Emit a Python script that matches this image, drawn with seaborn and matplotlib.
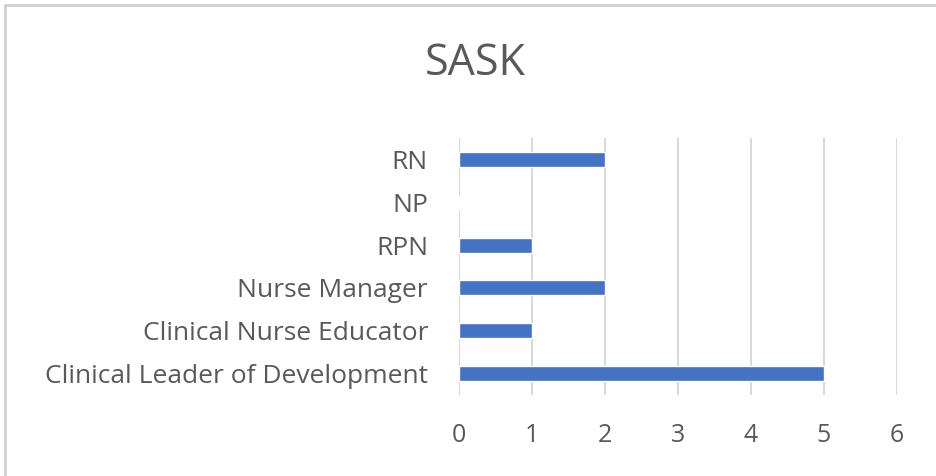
import matplotlib
matplotlib.use("Agg")
import matplotlib.pyplot as plt
import seaborn as sns
import pandas as pd
from matplotlib.patches import Rectangle

categories = ["RN", "NP", "RPN", "Nurse Manager", "Clinical Nurse Educator",
              "Clinical Leader of Development"]
values = [2, 0, 1, 2, 1, 5]
xticks = [0, 1, 2, 3, 4, 5, 6]

sns.set_style("white")
plt.rcParams['font.family'] = ['Open Sans', 'DejaVu Sans']

df = pd.DataFrame({"role": categories, "count": values})

fig = plt.figure(figsize=(9.36, 4.76), dpi=100)
ax = fig.add_axes([0.490, 0.170, 0.468, 0.540])

sns.barplot(data=df, y="role", x="count", orient="h", color="#4472C4",
            saturation=1, width=0.35, ax=ax, zorder=3)

ax.set_xlim(0, 6)
ax.set_ylim(5.5, -0.5)
ax.set_xticks(xticks)
ax.set_xticklabels([str(t) for t in xticks])
ax.grid(axis="x", color="#d9d9d9", linewidth=1.5, zorder=0)
ax.grid(axis="y", visible=False)
for s in ax.spines.values():
    s.set_visible(False)
ax.tick_params(axis="both", length=0, colors="#595959")
ax.tick_params(axis="x", pad=20, labelsize=18)
ax.tick_params(axis="y", pad=22, labelsize=19)
ax.set_xlabel("")
ax.set_ylabel("")

fig.text(0.508, 0.866, "SASK", ha="center", va="center", fontsize=31, color="#595959")

fig.patches.append(Rectangle((5/936, -0.1), 1.2, 1 - 5/476 + 0.1, transform=fig.transFigure,
                             fill=False, edgecolor="#d0d0d0", linewidth=2.0))

fig.savefig("out.png", dpi=100)
